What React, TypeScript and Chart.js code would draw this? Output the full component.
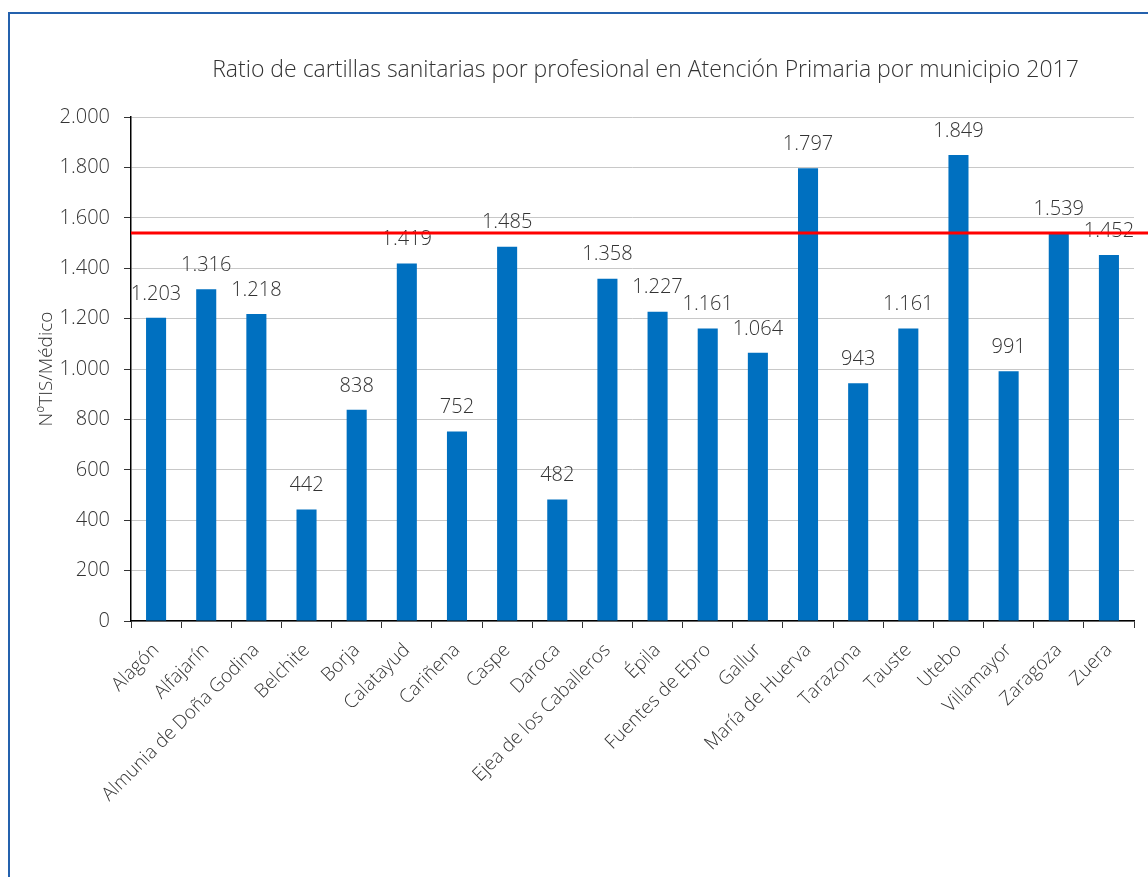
import React, { useEffect, useRef } from "react";
import { Chart, registerables } from "chart.js";

Chart.register(...registerables);

const TITLE = "Ratio de cartillas sanitarias por profesional en Atención Primaria por municipio 2017";
const Y_TITLE = "NºTIS/Médico";
const municipios = [
  "Alagón", "Alfajarín", "Almunia de Doña Godina", "Belchite", "Borja", "Calatayud",
  "Cariñena", "Caspe", "Daroca", "Ejea de los Caballeros", "Épila", "Fuentes de Ebro",
  "Gallur", "María de Huerva", "Tarazona", "Tauste", "Utebo", "Villamayor", "Zaragoza", "Zuera",
];
const ratios = [
  1203, 1316, 1218, 442, 838, 1419, 752, 1485, 482, 1358, 1227, 1161,
  1064, 1797, 943, 1161, 1849, 991, 1539, 1452,
];
const referenceValue = 1540;
const yMin = 0;
const yMax = 2000;
const yStep = 200;

const FONT = "'Open Sans', 'DejaVu Sans', sans-serif";
const TEXT = "#333333";

function fmt(v: number): string {
  return Math.round(v).toString().replace(/\B(?=(\d{3})+(?!\d))/g, ".");
}

const titlePlugin = {
  id: "ownTitle",
  afterDraw(chart: any) {
    const ctx = chart.ctx;
    const area = chart.chartArea;
    ctx.save();
    ctx.font = `300 23px ${FONT}`;
    ctx.fillStyle = TEXT;
    ctx.textAlign = "center";
    ctx.textBaseline = "middle";
    ctx.fillText(TITLE, (area.left + area.right) / 2 + 13, area.top - 47);
    ctx.restore();
  },
};

const labelsPlugin = {
  id: "valueLabels",
  afterDatasetsDraw(chart: any) {
    const ctx = chart.ctx;
    const meta = chart.getDatasetMeta(0);
    ctx.save();
    ctx.font = `300 20px ${FONT}`;
    ctx.fillStyle = TEXT;
    ctx.textAlign = "center";
    ctx.textBaseline = "middle";
    meta.data.forEach((bar: any, i: number) => {
      ctx.fillText(fmt(ratios[i]), bar.x, bar.y - 24);
    });
    ctx.restore();
  },
};

const refLinePlugin = {
  id: "refLine",
  afterDraw(chart: any) {
    const ctx = chart.ctx;
    const y = chart.scales.y.getPixelForValue(referenceValue);
    ctx.save();
    ctx.strokeStyle = "#ff0000";
    ctx.lineWidth = 3;
    ctx.beginPath();
    ctx.moveTo(chart.chartArea.left, y);
    ctx.lineTo(chart.width, y);
    ctx.stroke();
    ctx.restore();
  },
};

export default function App() {
  const ref = useRef<HTMLCanvasElement | null>(null);
  useEffect(() => {
    if (!ref.current) return;
    const chart = new Chart(ref.current, {
      type: "bar",
      data: {
        labels: municipios,
        datasets: [
          {
            data: ratios,
            backgroundColor: "#0070c0",
            barPercentage: 0.4,
            categoryPercentage: 1,
          },
        ],
      },
      options: {
        responsive: false,
        animation: false,
        layout: { padding: { left: 0, right: 14, top: 117, bottom: 0 } },
        plugins: {
          legend: { display: false },
          tooltip: { enabled: false },
          title: { display: false },
        },
        scales: {
          x: {
            offset: true,
            grid: { display: true, drawOnChartArea: false, drawTicks: true, tickLength: 7, tickColor: "#333", offset: true },
            border: { display: true, color: "#000", width: 1.5 },
            ticks: {
              autoSkip: false,
              maxRotation: 45,
              minRotation: 45,
              padding: 11,
              color: TEXT,
              font: { family: FONT, size: 19, weight: "300" as any },
            },
            afterFit: (s: any) => { s.height = 256; },
          },
          y: {
            min: yMin,
            max: yMax,
            ticks: {
              stepSize: yStep,
              padding: 14,
              color: TEXT,
              font: { family: FONT, size: 20, weight: "300" as any },
              callback: (v: any) => fmt(Number(v)),
            },
            grid: { color: "#c8c8c8", tickLength: 7, tickColor: "#333", lineWidth: 1 },
            border: { display: true, color: "#000", width: 1.5 },
            title: {
              display: true,
              text: Y_TITLE,
              color: TEXT,
              font: { family: FONT, size: 19, weight: "300" as any, lineHeight: 1.2 },
              padding: { top: 35, bottom: 0 },
            },
            afterFit: (s: any) => { s.width = 131; },
          },
        },
      },
      plugins: [labelsPlugin, refLinePlugin, titlePlugin],
    });
    return () => chart.destroy();
  }, []);

  return (
    <div style={{ position: "fixed", left: 0, top: 0, width: 1148, height: 877, background: "#fff", overflow: "hidden" }}>
      <canvas ref={ref} width={1148} height={877} style={{ position: "absolute", left: 0, top: 0, width: 1148, height: 877 }} />
      <div
        style={{
          position: "absolute",
          left: 8,
          top: 12,
          width: 1200,
          height: 900,
          borderTop: "2px solid #2461ad",
          borderLeft: "2px solid #2461ad",
          pointerEvents: "none",
        }}
      />
    </div>
  );
}
